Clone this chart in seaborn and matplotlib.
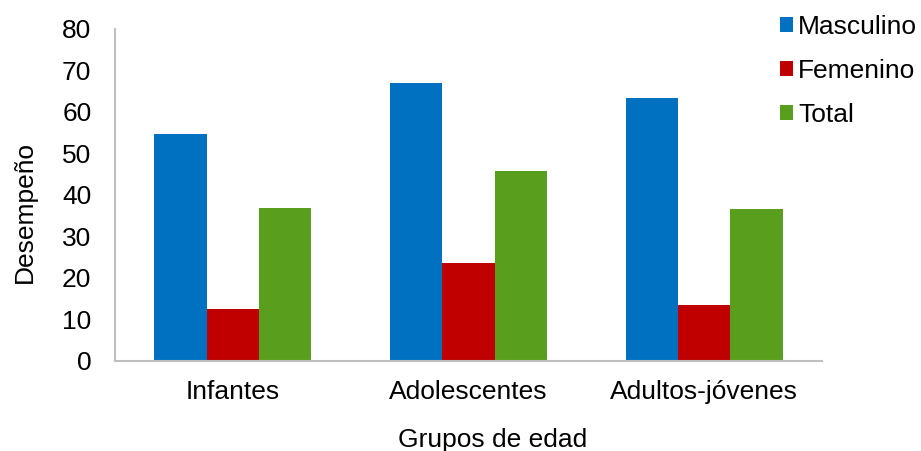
import matplotlib
matplotlib.use("Agg")
import matplotlib.pyplot as plt
import seaborn as sns
import pandas as pd

# Desempeño por grupo de edad y sexo
grupos = ["Infantes", "Adolescentes", "Adultos-jóvenes"]
series = ["Masculino", "Femenino", "Total"]
masculino = [54.7, 66.9, 63.3]
femenino = [12.5, 23.6, 13.6]
total = [36.8, 45.8, 36.7]
colores = ["#0070C0", "#C00000", "#5A9E1E"]
y_ticks = [0, 10, 20, 30, 40, 50, 60, 70, 80]

df = pd.DataFrame({
    "grupo": grupos * 3,
    "serie": [s for s in series for _ in grupos],
    "valor": masculino + femenino + total,
})

sns.set_theme(style="white")
plt.rcParams["font.family"] = ["Liberation Sans", "DejaVu Sans"]
plt.rcParams["text.color"] = "black"

FS = 19

fig, ax = plt.subplots(figsize=(9.21, 4.51), dpi=100)
fig.subplots_adjust(left=0.1249, right=0.8925, bottom=0.1996, top=0.9357)

sns.barplot(data=df, x="grupo", y="valor", hue="serie", order=grupos,
            hue_order=series, palette=colores, width=0.667, saturation=1,
            edgecolor="none", ax=ax)

ax.set_ylim(0, 80)
ax.set_xlim(-0.5, 2.5)
ax.set_yticks(y_ticks)
ax.tick_params(axis="both", length=0, labelsize=FS, labelcolor="black")
ax.tick_params(axis="x", pad=13.5)
ax.tick_params(axis="y", pad=17)

for side in ["top", "right"]:
    ax.spines[side].set_visible(False)
for side in ["left", "bottom"]:
    ax.spines[side].set_color("#BFBFBF")
    ax.spines[side].set_linewidth(1.5)

ax.set_xlabel("Grupos de edad", fontsize=FS, color="black")
ax.xaxis.set_label_coords(0.534, -0.202)
ax.set_ylabel("Desempeño", fontsize=FS, color="black")
ax.yaxis.set_label_coords(-0.111, 0.449)

handles, labels = ax.get_legend_handles_labels()
ax.legend(handles, labels, loc="upper left", bbox_to_anchor=(0.835, 0.99),
          bbox_transform=fig.transFigure, frameon=False, fontsize=FS,
          labelcolor="black",
          handlelength=0.5, handleheight=0.5, handletextpad=0.2,
          labelspacing=0.75, borderaxespad=0)

fig.savefig("out.png", dpi=100)
